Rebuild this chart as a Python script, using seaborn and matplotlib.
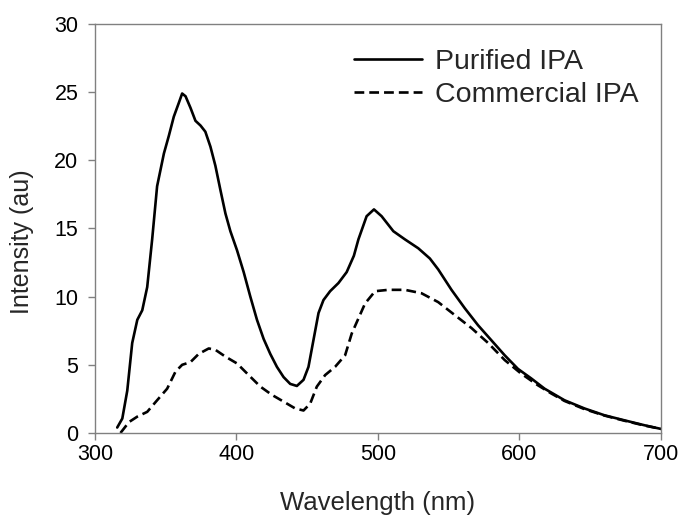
import numpy as np
import pandas as pd
import matplotlib
matplotlib.use("Agg")
import matplotlib.pyplot as plt
import seaborn as sns

# Purified IPA
pur_wl = [315.7, 319.3, 322.8, 326.3, 329.9, 333.4, 336.9, 340.4, 343.9, 348.7,
          352.2, 355.7, 359.2, 361.6, 364.0, 367.5, 371.0, 374.6, 378.0, 381.6,
          385.1, 388.6, 392.2, 395.7, 400.4, 405.1, 409.8, 414.5, 419.2, 423.9,
          428.6, 433.3, 438.0, 442.7, 447.4, 450.9, 454.4, 458.0, 461.5, 466.2,
          472.1, 477.9, 483.0, 486.2, 492.0, 497.2, 502.6, 510.9, 519.1, 528.5,
          536.7, 542.6, 552.0, 561.4, 570.8, 580.2, 589.6, 599.0, 608.4, 617.8,
          631.9, 646.0, 660.1, 674.2, 688.3, 700.0]
pur_int = [0.4, 1.06, 3.1, 6.6, 8.3, 9.0, 10.7, 14.2, 18.1, 20.5,
           21.8, 23.2, 24.2, 24.9, 24.7, 23.85, 22.9, 22.55, 22.1, 21.0,
           19.6, 17.85, 16.1, 14.8, 13.4, 11.8, 10.0, 8.3, 6.9, 5.8,
           4.85, 4.1, 3.6, 3.45, 3.9, 4.85, 6.8, 8.8, 9.75, 10.4,
           11.0, 11.8, 13.0, 14.2, 15.9, 16.4, 15.9, 14.8, 14.2, 13.55,
           12.8, 12.0, 10.5, 9.15, 7.9, 6.8, 5.7, 4.7, 4.0, 3.25,
           2.4, 1.8, 1.3, 0.93, 0.57, 0.3]

# Commercial IPA
com_wl = [318.0, 324.0, 329.9, 336.9, 343.9, 351.0, 356.9, 361.6, 367.5, 373.3,
          380.4, 385.1, 392.2, 400.4, 408.6, 416.9, 425.0, 433.3, 441.5, 447.4,
          452.1, 456.8, 462.7, 469.7, 476.8, 481.5, 490.9, 498.0, 507.3, 519.1,
          530.8, 542.6, 554.3, 566.1, 577.9, 589.6, 601.3, 613.1, 622.5, 631.9,
          646.0, 660.1, 674.2, 688.3, 700.0]
com_int = [0.0, 0.8, 1.2, 1.55, 2.4, 3.25, 4.5, 5.0, 5.2, 5.8,
           6.2, 6.1, 5.6, 5.1, 4.25, 3.4, 2.8, 2.3, 1.8, 1.65,
           2.15, 3.4, 4.25, 4.85, 5.7, 7.3, 9.5, 10.4, 10.5, 10.5,
           10.25, 9.6, 8.65, 7.7, 6.6, 5.35, 4.35, 3.5, 2.9, 2.35,
           1.75, 1.28, 0.9, 0.55, 0.3]

series_names = ["Purified IPA", "Commercial IPA"]
x_ticks = [300, 400, 500, 600, 700]
y_ticks = [0, 5, 10, 15, 20, 25, 30]

sns.set_theme(style="ticks")
plt.rcParams['font.family'] = ['Liberation Sans', 'DejaVu Sans']

fig = plt.figure(figsize=(6.82, 5.17), dpi=100)
ax = fig.add_axes([0.1393, 0.1625, 0.8297, 0.7911])

df_p = pd.DataFrame({"wl": pur_wl, "I": pur_int})
df_c = pd.DataFrame({"wl": com_wl, "I": com_int})

sns.lineplot(data=df_p, x="wl", y="I", ax=ax, color="black", linewidth=1.9,
             estimator=None, sort=False, label=series_names[0])
sns.lineplot(data=df_c, x="wl", y="I", ax=ax, color="black", linewidth=1.9,
             estimator=None, sort=False, label=series_names[1],
             linestyle=(0, (3.7, 1.9)))

ax.set_xlim(300, 700)
ax.set_ylim(0, 30)
ax.set_xticks(x_ticks)
ax.set_yticks(y_ticks)
ax.set_xlabel("Wavelength (nm)", fontsize=18.5, labelpad=18.5)
ax.set_ylabel("Intensity (au)", fontsize=18)
ax.yaxis.set_label_coords(-0.108, 0.468)
ax.tick_params(axis="both", labelsize=15.5, direction="out", length=5,
               width=1.0, color="#808080", labelcolor="black")
ax.tick_params(axis="x", pad=3)
ax.tick_params(axis="y", pad=7)

for s in ax.spines.values():
    s.set_color("#808080")
    s.set_linewidth(1.0)
    s.set_visible(True)

leg = ax.legend(loc="upper left", bbox_to_anchor=(0.457, 0.940), frameon=False,
                fontsize=20.5, handlelength=2.4, handletextpad=0.46,
                labelspacing=0.26, borderpad=0, borderaxespad=0)

fig.savefig("out.png", dpi=100)
